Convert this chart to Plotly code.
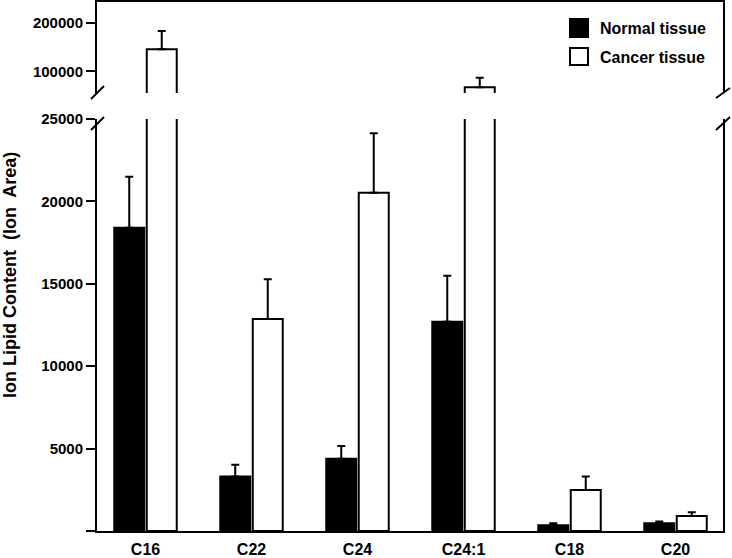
import plotly.graph_objects as go

categories = ["C16", "C22", "C24", "C24:1", "C18", "C20"]
normal_vals = [18400, 3300, 4390, 12700, 345, 470]
normal_err = [3100, 720, 770, 2790, 120, 100]
cancer_vals = [145300, 12860, 20530, 67100, 2490, 910]
cancer_err = [37800, 2410, 3600, 19700, 810, 225]
series_names = ["Normal tissue", "Cancer tissue"]

low_ticks = [0, 5000, 10000, 15000, 20000, 25000]
low_ticktext = ["", "5000", "10000", "15000", "20000", "25000"]
up_ticks = [100000, 200000]
up_ticktext = ["100000", "200000"]

W, H = 732, 558
ML, MR, MT, MB = 97, 9, 2, 27
PW, PH = W - ML - MR, H - MT - MB

def px(x):
    return (x - ML) / PW

def py(y):
    return (H - MB - y) / PH

FONT = "Liberation Sans, Arial, sans-serif"
LW = 2

fig = go.Figure()

for xa, ya in (("x", "y"), ("x2", "y2")):
    fig.add_trace(go.Bar(
        x=categories, y=normal_vals, name=series_names[0], xaxis=xa, yaxis=ya,
        marker=dict(color="black", line=dict(color="black", width=LW)),
        error_y=dict(type="data", array=normal_err, arrayminus=[0] * 6, symmetric=False,
                     color="black", thickness=LW, width=4),
        showlegend=False,
    ))
    fig.add_trace(go.Bar(
        x=categories, y=cancer_vals, name=series_names[1], xaxis=xa, yaxis=ya,
        marker=dict(color="white", line=dict(color="black", width=LW)),
        error_y=dict(type="data", array=cancer_err, arrayminus=[0] * 6, symmetric=False,
                     color="black", thickness=LW, width=4),
        showlegend=False,
    ))

d1 = py(119)
d2 = py(93)

tickfont = dict(family=FONT, size=15, color="black", weight="bold")

fig.update_layout(
    template="none",
    width=W, height=H,
    margin=dict(l=ML, r=MR, t=MT, b=MB, pad=0, autoexpand=False),
    paper_bgcolor="white", plot_bgcolor="white",
    barmode="group", bargap=0.387, bargroupgap=0.077,
    showlegend=False,
    xaxis=dict(anchor="y", domain=[0, 1], range=[-0.4575, 5.448], showline=True,
               linecolor="black", linewidth=LW, ticks="", showgrid=False, zeroline=False,
               automargin=False,
               tickfont=dict(family=FONT, size=16, color="black", weight="bold"),
               ticklabelstandoff=3),
    xaxis2=dict(anchor="y2", matches="x", side="top", showline=True, linecolor="black",
                linewidth=LW, ticks="", showticklabels=False, showgrid=False, zeroline=False,
                automargin=False),
    yaxis=dict(domain=[0, d1], range=[0, 25000], showline=True, mirror=True,
               linecolor="black", linewidth=LW, ticks="outside", ticklen=9, tickwidth=LW,
               tickcolor="black", tickvals=low_ticks, ticktext=low_ticktext,
               showgrid=False, zeroline=False, tickfont=tickfont, automargin=False),
    yaxis2=dict(domain=[d2, 1], range=[55350, 242600], showline=True, mirror=True,
                linecolor="black", linewidth=LW, ticks="outside", ticklen=9, tickwidth=LW,
                tickcolor="black", tickvals=up_ticks, ticktext=up_ticktext,
                showgrid=False, zeroline=False, tickfont=tickfont, automargin=False),
)

# axis break marks
shapes = []
for (x0, y0, x1, y1) in [(91, 99, 104, 86), (91, 130, 104, 117),
                         (716, 98, 730, 88), (716, 130, 730, 117)]:
    shapes.append(dict(type="line", xref="paper", yref="paper",
                       x0=px(x0), y0=py(y0), x1=px(x1), y1=py(y1),
                       line=dict(color="black", width=LW)))

# legend swatches
shapes.append(dict(type="rect", xref="paper", yref="paper",
                   x0=px(570), x1=px(588), y0=py(37), y1=py(19),
                   fillcolor="black", line=dict(color="black", width=LW)))
shapes.append(dict(type="rect", xref="paper", yref="paper",
                   x0=px(570), x1=px(588), y0=py(65), y1=py(48),
                   fillcolor="white", line=dict(color="black", width=LW)))
fig.update_layout(shapes=shapes)

lfont = dict(family=FONT, size=16, color="black", weight="bold")
fig.add_annotation(xref="paper", yref="paper", x=px(598), y=py(28), text=series_names[0],
                   showarrow=False, xanchor="left", yanchor="middle", font=lfont)
fig.add_annotation(xref="paper", yref="paper", x=px(598), y=py(57), text=series_names[1],
                   showarrow=False, xanchor="left", yanchor="middle", font=lfont)

fig.add_annotation(xref="paper", yref="paper", x=px(10), y=py(275),
                   text="Ion Lipid Content  (Ion  Area)", textangle=-90, showarrow=False,
                   xanchor="center", yanchor="middle",
                   font=dict(family=FONT, size=18, color="black", weight="bold"))

fig.write_html("out.html", config={"displayModeBar": False},
               post_script="document.body.style.margin='0';")
